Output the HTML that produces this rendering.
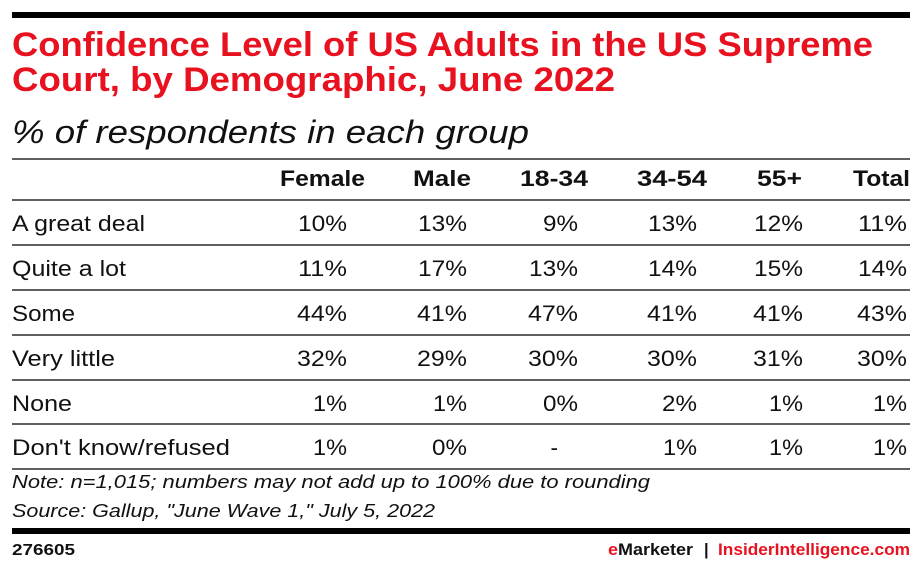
<!DOCTYPE html>
<html><head><meta charset="utf-8"><style>
html,body{margin:0;padding:0;background:#fff;}
svg{display:block;}
text{font-family:"Liberation Sans",sans-serif;}
.t{fill:#e8111f;font-weight:bold;font-size:34px;}
.s{fill:#111;font-style:italic;font-size:32px;}
.h{fill:#111;font-weight:bold;font-size:22px;}
.l{fill:#111;font-size:22px;}
.v{fill:#111;font-size:22.5px;text-anchor:end;}
.n{fill:#111;font-style:italic;font-size:18px;}
</style></head><body>
<svg width="922" height="572" viewBox="0 0 922 572" xmlns="http://www.w3.org/2000/svg">
<rect width="922" height="572" fill="#fff"/>
<rect x="12" y="12" width="898" height="6" fill="#000"/>
<text class="t" x="12" y="56" textLength="861" lengthAdjust="spacingAndGlyphs">Confidence Level of US Adults in the US Supreme</text>
<text class="t" x="12" y="91" textLength="603" lengthAdjust="spacingAndGlyphs">Court, by Demographic, June 2022</text>
<text class="s" x="12" y="143" textLength="517" lengthAdjust="spacingAndGlyphs">% of respondents in each group</text>
<g stroke="#2a2a2a" stroke-width="1.6">
<line x1="12" y1="159" x2="910" y2="159"/>
<line x1="12" y1="200" x2="910" y2="200"/>
<line x1="12" y1="245" x2="910" y2="245"/>
<line x1="12" y1="290" x2="910" y2="290"/>
<line x1="12" y1="335" x2="910" y2="335"/>
<line x1="12" y1="380" x2="910" y2="380"/>
<line x1="12" y1="424" x2="910" y2="424"/>
<line x1="12" y1="469" x2="910" y2="469"/>
</g>
<text class="h" x="280" y="186" textLength="85" lengthAdjust="spacingAndGlyphs">Female</text>
<text class="h" x="413" y="186" textLength="58" lengthAdjust="spacingAndGlyphs">Male</text>
<text class="h" x="520" y="186" textLength="68" lengthAdjust="spacingAndGlyphs">18-34</text>
<text class="h" x="637" y="186" textLength="70" lengthAdjust="spacingAndGlyphs">34-54</text>
<text class="h" x="757" y="186" textLength="45" lengthAdjust="spacingAndGlyphs">55+</text>
<text class="h" x="853" y="186" textLength="57" lengthAdjust="spacingAndGlyphs">Total</text>

<text class="l" x="12" y="231" textLength="133" lengthAdjust="spacingAndGlyphs">A great deal</text>
<text class="l" x="12" y="276" textLength="114" lengthAdjust="spacingAndGlyphs">Quite a lot</text>
<text class="l" x="12" y="321" textLength="63" lengthAdjust="spacingAndGlyphs">Some</text>
<text class="l" x="12" y="366" textLength="103" lengthAdjust="spacingAndGlyphs">Very little</text>
<text class="l" x="12" y="411" textLength="60" lengthAdjust="spacingAndGlyphs">None</text>
<text class="l" x="12" y="455" textLength="218" lengthAdjust="spacingAndGlyphs">Don't know/refused</text>

<g>
<text class="v" x="347" y="231" textLength="49" lengthAdjust="spacingAndGlyphs">10%</text><text class="v" x="467" y="231" textLength="49" lengthAdjust="spacingAndGlyphs">13%</text><text class="v" x="578" y="231" textLength="35" lengthAdjust="spacingAndGlyphs">9%</text><text class="v" x="697" y="231" textLength="49" lengthAdjust="spacingAndGlyphs">13%</text><text class="v" x="803" y="231" textLength="49" lengthAdjust="spacingAndGlyphs">12%</text><text class="v" x="907" y="231" textLength="49" lengthAdjust="spacingAndGlyphs">11%</text>
<text class="v" x="347" y="276" textLength="49" lengthAdjust="spacingAndGlyphs">11%</text><text class="v" x="467" y="276" textLength="49" lengthAdjust="spacingAndGlyphs">17%</text><text class="v" x="578" y="276" textLength="49" lengthAdjust="spacingAndGlyphs">13%</text><text class="v" x="697" y="276" textLength="49" lengthAdjust="spacingAndGlyphs">14%</text><text class="v" x="803" y="276" textLength="49" lengthAdjust="spacingAndGlyphs">15%</text><text class="v" x="907" y="276" textLength="49" lengthAdjust="spacingAndGlyphs">14%</text>
<text class="v" x="347" y="321" textLength="50" lengthAdjust="spacingAndGlyphs">44%</text><text class="v" x="467" y="321" textLength="50" lengthAdjust="spacingAndGlyphs">41%</text><text class="v" x="578" y="321" textLength="50" lengthAdjust="spacingAndGlyphs">47%</text><text class="v" x="697" y="321" textLength="50" lengthAdjust="spacingAndGlyphs">41%</text><text class="v" x="803" y="321" textLength="50" lengthAdjust="spacingAndGlyphs">41%</text><text class="v" x="907" y="321" textLength="50" lengthAdjust="spacingAndGlyphs">43%</text>
<text class="v" x="347" y="366" textLength="50" lengthAdjust="spacingAndGlyphs">32%</text><text class="v" x="467" y="366" textLength="50" lengthAdjust="spacingAndGlyphs">29%</text><text class="v" x="578" y="366" textLength="50" lengthAdjust="spacingAndGlyphs">30%</text><text class="v" x="697" y="366" textLength="50" lengthAdjust="spacingAndGlyphs">30%</text><text class="v" x="803" y="366" textLength="50" lengthAdjust="spacingAndGlyphs">31%</text><text class="v" x="907" y="366" textLength="50" lengthAdjust="spacingAndGlyphs">30%</text>
<text class="v" x="347" y="411" textLength="34" lengthAdjust="spacingAndGlyphs">1%</text><text class="v" x="467" y="411" textLength="34" lengthAdjust="spacingAndGlyphs">1%</text><text class="v" x="578" y="411" textLength="35" lengthAdjust="spacingAndGlyphs">0%</text><text class="v" x="697" y="411" textLength="35" lengthAdjust="spacingAndGlyphs">2%</text><text class="v" x="803" y="411" textLength="34" lengthAdjust="spacingAndGlyphs">1%</text><text class="v" x="907" y="411" textLength="34" lengthAdjust="spacingAndGlyphs">1%</text>
<text class="v" x="347" y="455" textLength="34" lengthAdjust="spacingAndGlyphs">1%</text><text class="v" x="467" y="455" textLength="35" lengthAdjust="spacingAndGlyphs">0%</text><text class="v" x="558" y="455">-</text><text class="v" x="697" y="455" textLength="34" lengthAdjust="spacingAndGlyphs">1%</text><text class="v" x="803" y="455" textLength="34" lengthAdjust="spacingAndGlyphs">1%</text><text class="v" x="907" y="455" textLength="34" lengthAdjust="spacingAndGlyphs">1%</text>
</g>

<text class="n" x="12" y="488" textLength="638" lengthAdjust="spacingAndGlyphs">Note: n=1,015; numbers may not add up to 100% due to rounding</text>
<text class="n" x="12" y="517" textLength="423" lengthAdjust="spacingAndGlyphs">Source: Gallup, "June Wave 1," July 5, 2022</text>
<rect x="12" y="528" width="898" height="6" fill="#000"/>
<text x="12" y="555" style="font-weight:bold;font-size:16px;fill:#111" textLength="63" lengthAdjust="spacingAndGlyphs">276605</text>
<text x="608" y="555" style="font-weight:bold;font-size:16.5px" textLength="85" lengthAdjust="spacingAndGlyphs"><tspan fill="#e8111f">e</tspan><tspan fill="#111">Marketer</tspan></text>
<text x="704" y="555" style="font-weight:bold;font-size:16.5px;fill:#111">|</text>
<text x="718" y="555" style="font-weight:bold;font-size:16.5px;fill:#e8111f" textLength="192" lengthAdjust="spacingAndGlyphs">InsiderIntelligence.com</text>
</svg>
</body></html>
